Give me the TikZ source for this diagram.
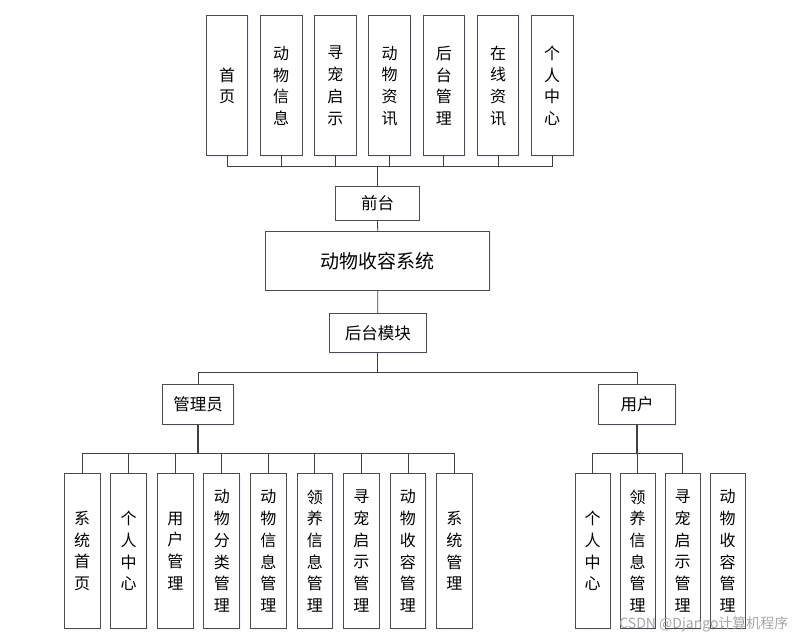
\documentclass[tikz,border=0pt]{standalone}
\usepackage{fontspec}
\setmainfont{Noto Sans CJK SC}
\usetikzlibrary{shadows}
\tikzset{
	box/.style={draw=black!70, line width=0.9pt, fill=white, inner sep=0pt, align=center,
		drop shadow={opacity=0.12, fill=blue!40, shadow xshift=1.2pt, shadow yshift=-1.2pt}},
	vbox/.style={box, font=\fontsize{16}{21.7}\selectfont},
	hbox/.style={box, font=\fontsize{16.5}{18}\selectfont},
	link/.style={draw=black!75, line width=0.8pt}
}
\begin{document}
\begin{tikzpicture}[x=1pt,y=-1pt]
		\useasboundingbox (0,0) rectangle (811,640);
		\foreach \i/\t in {0/{首\\页},1/{动\\物\\信\\息},2/{寻\\宠\\启\\示},3/{动\\物\\资\\讯},4/{后\\台\\管\\理},5/{在\\线\\资\\讯},6/{个\\人\\中\\心}}
			\node[vbox, minimum width=41.5pt, minimum height=140pt] (top\i) at (227+54.2*\i,85.8) {\t};
		\node[hbox, minimum width=83.3pt, minimum height=33.3pt] (front) at (377.5,203.3) {前台};
		\node[box, font=\fontsize{19}{22}\selectfont, minimum width=224.3pt, minimum height=58.3pt] (sys) at (377.7,261) {动物收容系统};
		\node[hbox, minimum width=96.4pt, minimum height=39pt] (back) at (377.8,332.8) {后台模块};
		\node[hbox, minimum width=71pt, minimum height=40pt] (admin) at (198.2,404.3) {管理员};
		\node[hbox, minimum width=77.6pt, minimum height=40pt] (user) at (637.1,404.3) {用户};
		\foreach \i/\t in {0/{系\\统\\首\\页},1/{个\\人\\中\\心},2/{用\\户\\管\\理},3/{动\\物\\分\\类\\管\\理},4/{动\\物\\信\\息\\管\\理},5/{领\\养\\信\\息\\管\\理},6/{寻\\宠\\启\\示\\管\\理},7/{动\\物\\收\\容\\管\\理},8/{系\\统\\管\\理}}
			\node[vbox, minimum width=35.7pt, minimum height=154.6pt] (adm\i) at (82.2+46.53*\i,551) {\t};
		\foreach \i/\t in {0/{个\\人\\中\\心},1/{领\\养\\信\\息\\管\\理},2/{寻\\宠\\启\\示\\管\\理},3/{动\\物\\收\\容\\管\\理}}
			\node[vbox, minimum width=34.7pt, minimum height=154.6pt] (usr\i) at (592.7+45*\i,551) {\t};
		\foreach \i in {0,...,6}
			\draw[link] (top\i.south) -- ++(0,10) -| (front.north);
		\draw[link] (front.south) -- (sys.north);
		\draw[link] (sys.south) -- (back.north);
		\draw[link] (back.south) -- ++(0,19.4) -| (admin.north);
		\draw[link] (back.south) -- ++(0,19.4) -| (user.north);
		\foreach \i in {0,...,8}
			\draw[link] (adm\i.north) -- ++(0,-20) -| (admin.south);
		\foreach \i in {0,...,2}
			\draw[link] (usr\i.north) -- ++(0,-20) -| (user.south);
		\draw[link, line width=1.6pt] (admin.south) -- ++(0,29.4);
		\draw[link, line width=1.6pt] (user.south) -- ++(0,29.4);
		\node[anchor=east, text=black!35, font=\fontsize{14}{16}\selectfont] (mark) at (792,624) {CSDN @Django计算机程序};
\end{tikzpicture}
\end{document}
